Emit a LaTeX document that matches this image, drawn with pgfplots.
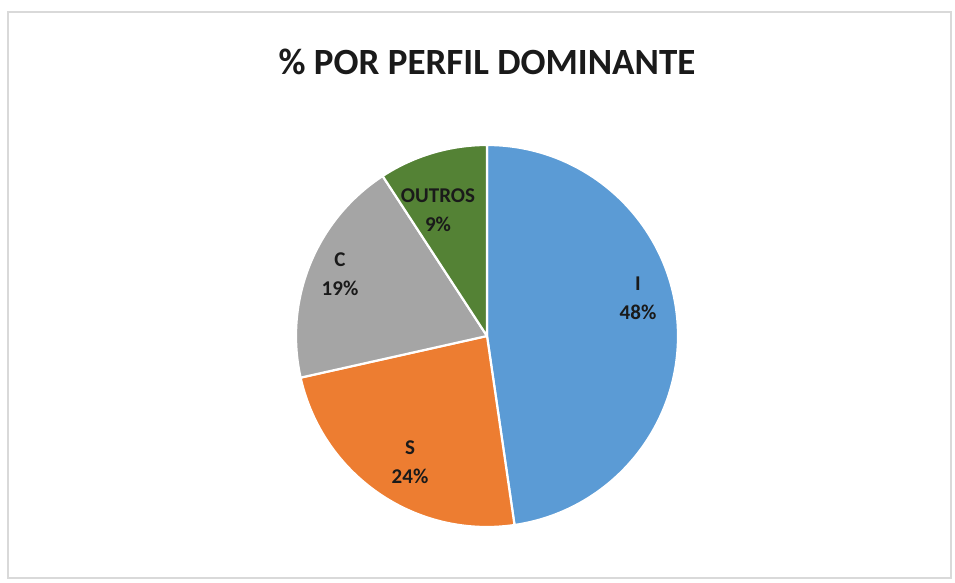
\documentclass[border=0pt]{standalone}
\usepackage{pgfplots}
\pgfplotsset{compat=1.18}
\usepackage{pgfplotstable}
\usepackage{fontspec}
\setmainfont{Carlito}

\definecolor{pieblue}{HTML}{5B9BD5}
\definecolor{pieorange}{HTML}{ED7D31}
\definecolor{piegray}{HTML}{A5A5A5}
\definecolor{piegreen}{HTML}{548235}
\definecolor{framegray}{HTML}{D9D9D9}
\definecolor{txt}{HTML}{1A1A1A}

% slice shares (percent), the rounded label, and where the data labels sit
\pgfplotstableread[col sep=comma]{
label,value,pct,color,lx,ly
I,47.7,48,pieblue,638,285
S,23.8,24,pieorange,410,121
C,19.3,19,piegray,340,309
OUTROS,9.2,9,piegreen,438,373
}\piedata

\tikzset{pielabel/.style={font=\fontsize{21}{29}\selectfont\bfseries, text=txt, align=center}}

\begin{document}
\begin{tikzpicture}
\begin{axis}[
    hide axis, scale only axis, clip=false,
    x=1pt, y=1pt,
    xmin=0, xmax=955, ymin=0, ymax=583,
]
\path[use as bounding box] (axis cs:0,0) rectangle (axis cs:955,583);
\draw[framegray, line width=1.5pt] (axis cs:8,5) rectangle (axis cs:951,571);

\def\angstart{90}
\pgfplotsforeachungrouped \i in {0,...,3} {
  \pgfplotstablegetelem{\i}{value}\of\piedata \let\val=\pgfplotsretval
  \pgfplotstablegetelem{\i}{pct}\of\piedata \let\pct=\pgfplotsretval
  \pgfplotstablegetelem{\i}{color}\of\piedata \let\col=\pgfplotsretval
  \pgfplotstablegetelem{\i}{label}\of\piedata \let\lab=\pgfplotsretval
  \pgfplotstablegetelem{\i}{lx}\of\piedata \let\lx=\pgfplotsretval
  \pgfplotstablegetelem{\i}{ly}\of\piedata \let\ly=\pgfplotsretval
  \pgfmathsetmacro\angend{\angstart-3.6*\val}
  \edef\temp{\noexpand\fill[\col, draw=white, line width=2.2pt, line join=round]
    (axis cs:487,247) -- ++(\angstart:191pt)
    arc[start angle=\angstart, end angle=\angend, radius=191pt] -- cycle;}
  \temp
  \edef\temp{\noexpand\node[pielabel] at (axis cs:\lx,\ly) {\lab\noexpand\\\pct\noexpand\%};}
  \temp
  \let\angstart=\angend
}

\node[font=\fontsize{37}{44}\selectfont\bfseries, text=txt] at (axis cs:487,521) {\% POR PERFIL DOMINANTE};
\end{axis}
\end{tikzpicture}
\end{document}
